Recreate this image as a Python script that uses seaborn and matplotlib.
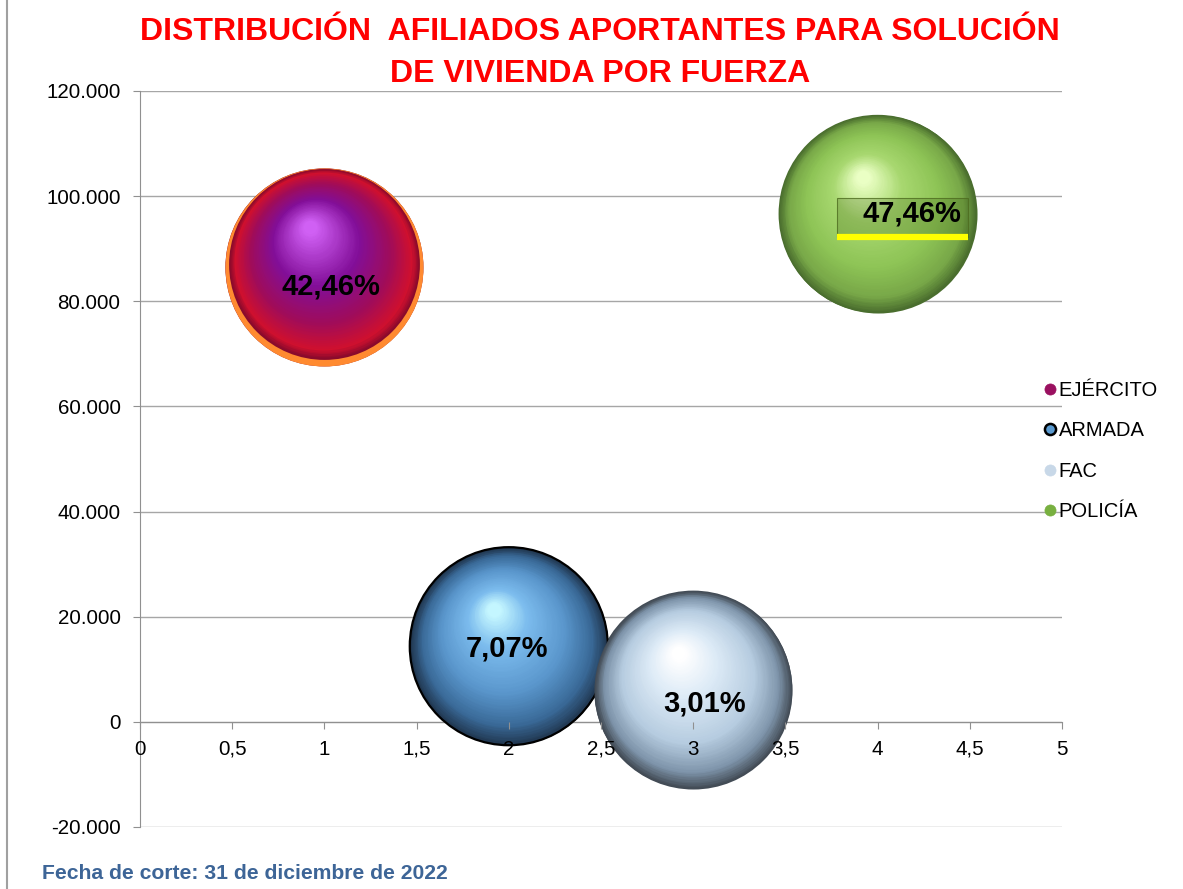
import numpy as np
import pandas as pd
import seaborn as sns
import matplotlib.pyplot as plt
from matplotlib.colors import LinearSegmentedColormap
from matplotlib.lines import Line2D
from matplotlib.patches import Rectangle
from matplotlib.transforms import Affine2D, ScaledTranslation
from matplotlib.ticker import FuncFormatter, MultipleLocator

# datos
fuerzas = ["EJÉRCITO", "ARMADA", "FAC", "POLICÍA"]
posicion = [1, 2, 3, 4]
afiliados = [86450, 14390, 6130, 96630]
porcentaje = ["42,46%", "7,07%", "3,01%", "47,46%"]

df = pd.DataFrame({"fuerza": fuerzas, "x": posicion, "y": afiliados, "pct": porcentaje})

# colores de cada esfera: borde -> centro brillante
esferas = {
    "EJÉRCITO": [(0, "#8a0a2c"), (0.07, "#d0102e"), (0.28, "#a00c5a"), (0.58, "#820e98"), (1, "#d060f4")],
    "ARMADA": [(0, "#20364f"), (0.15, "#3a6a98"), (0.4, "#5a96cc"), (0.75, "#7cbcee"), (1, "#c4f6ff")],
    "FAC": [(0, "#434c56"), (0.12, "#7e94aa"), (0.35, "#b6cce0"), (0.7, "#dceaf6"), (1, "#ffffff")],
    "POLICÍA": [(0, "#4a6e2e"), (0.12, "#78a848"), (0.35, "#8ec456"), (0.7, "#a8d870"), (1, "#eaffc4")],
}
borde_inferior = {"EJÉRCITO": "#ff8a30"}
leyenda_col = {"EJÉRCITO": "#9a1060", "ARMADA": "#5a9ad0", "FAC": "#c8d8e8", "POLICÍA": "#78b040"}

sns.set_style("white")
plt.rcParams['font.family'] = ['Liberation Sans', 'DejaVu Sans']

fig = plt.figure(figsize=(11.83, 8.89), dpi=100)
ax = fig.add_axes([140 / 1183, 1 - 827 / 889, 922 / 1183, 736 / 889])

R = 71.3  # radio en puntos
s_base = (2 * R) ** 2

# capa base con seaborn
sns.scatterplot(data=df, x="x", y="y", hue="fuerza", palette=[esferas[f][0][1] for f in fuerzas],
                s=s_base, linewidth=0, legend=False, ax=ax, zorder=3)

ax.set_xlim(0, 5)
ax.set_ylim(-20000, 120000)

pts = Affine2D().scale(1 / 72) + fig.dpi_scale_trans
hx, hy = -0.15 * R, 0.37 * R
n = 70
for i, row in df.iterrows():
    cmap = LinearSegmentedColormap.from_list(row.fuerza, esferas[row.fuerza])
    base = ScaledTranslation(row.x, row.y, ax.transData)
    R0, oy = R, 0.0
    if row.fuerza in borde_inferior:
        ax.scatter([0], [0], s=s_base, color=borde_inferior[row.fuerza], linewidth=0,
                   transform=pts + base, zorder=4 + i)
        R0, oy = R - 2.6, 2.6
    for k in range(n):
        t = k / (n - 1)
        r = R0 * (1 - 0.93 * t)
        ax.scatter([t * hx], [oy + t * hy], s=(2 * r) ** 2, color=cmap(t), linewidth=0,
                   transform=pts + base, zorder=4 + i)
    if row.fuerza == "ARMADA":
        ax.scatter([0], [0], s=s_base, facecolor="none", edgecolor="black", linewidth=1.6,
                   transform=pts + base, zorder=4 + i)

# etiquetas de porcentaje
offs = {"EJÉRCITO": (5, -14), "ARMADA": (-1.5, -1.5), "FAC": (8.5, -10), "POLICÍA": (24.5, 0)}
for i, row in df.iterrows():
    ax.annotate(row.pct, xy=(row.x, row.y), xytext=offs[row.fuerza], textcoords="offset points",
                ha="center", va="center", fontsize=21, fontweight="bold", color="black", zorder=20)

# recuadro de la etiqueta de POLICÍA
pol = df[df.fuerza == "POLICÍA"].iloc[0]
tb = pts + ScaledTranslation(pol.x, pol.y, ax.transData)
ax.add_patch(Rectangle((-29, -16.5), 94, 28, transform=tb, facecolor=(0.2, 0.32, 0.05, 0.22),
                       edgecolor=(0.3, 0.42, 0.12, 0.8), linewidth=0.8, zorder=15))
ax.add_line(Line2D([-29, 65], [-16.5, -16.5], transform=tb, color="#ffff00", linewidth=4.5,
                   solid_capstyle="butt", zorder=16))

# ejes
ax.yaxis.set_major_locator(MultipleLocator(20000))
ax.xaxis.set_major_locator(MultipleLocator(0.5))
ax.yaxis.set_major_formatter(FuncFormatter(lambda v, p: f"{int(v):,}".replace(",", ".")))
ax.xaxis.set_major_formatter(FuncFormatter(lambda v, p: f"{v:g}".replace(".", ",")))
ax.grid(axis="y", color="#a6a6a6", linewidth=1)
ax.set_axisbelow(True)
ax.xaxis.set_zorder(30)
for s in ["top", "right"]:
    ax.spines[s].set_visible(False)
ax.spines["left"].set_color("#909090")
ax.spines["bottom"].set_color("#909090")
ax.spines["bottom"].set_position(("data", 0))
ax.tick_params(axis="both", labelsize=14.8, labelcolor="black", direction="out", length=5,
               color="#909090", left=True, bottom=True)
ax.tick_params(axis="y", pad=9)
ax.tick_params(axis="x", pad=8)
ax.set_xlabel("")
ax.set_ylabel("")

# leyenda
handles = [Line2D([], [], linestyle="none", marker="o", markersize=8, markerfacecolor=leyenda_col[f],
                  markeredgecolor="black" if f == "ARMADA" else leyenda_col[f],
                  markeredgewidth=1.8 if f == "ARMADA" else 0.5) for f in fuerzas]
fig.legend(handles, fuerzas, loc="center left", bbox_to_anchor=(1026 / 1183, 1 - 451 / 889),
           frameon=False, fontsize=14.5, handlelength=0.6, handletextpad=0.12, labelspacing=1.06,
           labelcolor="black")

# título y pie
fig.text(600 / 1183, 1 - 17 / 889, "DISTRIBUCIÓN  AFILIADOS APORTANTES PARA SOLUCIÓN\nDE VIVIENDA POR FUERZA",
         ha="center", va="top", color="#ff0000", fontsize=23, fontweight="bold", linespacing=1.5)
fig.text(42 / 1183, 1 - 879 / 889, "Fecha de corte: 31 de diciembre de 2022", ha="left", va="baseline",
         color="#3d6597", fontsize=15.2, fontweight="bold")
fig.add_artist(Line2D([7 / 1183, 7 / 1183], [0, 1], color="#a0a0a0", linewidth=1.5))

fig.savefig("out.png", dpi=100)
